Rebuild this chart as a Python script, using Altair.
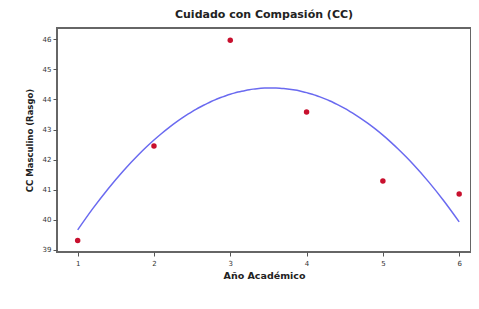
import altair as alt
import pandas as pd

years = [1, 2, 3, 4, 5, 6]
values = [39.31, 42.45, 45.97, 43.58, 41.29, 40.86]
x_ticks = [1, 2, 3, 4, 5, 6]
y_ticks = [39, 40, 41, 42, 43, 44, 45, 46]

df = pd.DataFrame({"year": years, "value": values})

xs = alt.Scale(domain=[0.729, 6.155], nice=False, zero=False)
ys = alt.Scale(domain=[38.93, 46.375], nice=False, zero=False)

x_axis = alt.Axis(values=x_ticks, format="d", labelOverlap=False, title="Año Académico",
                  grid=False, domain=False,
                  tickColor="#555", tickSize=4, labelFontSize=7, labelColor="#333",
                  titleFontSize=9.5, titleFontWeight="bold", titleColor="#222", titlePadding=4,
                  labelPadding=3)
y_axis = alt.Axis(values=y_ticks, format="d", labelOverlap=False, title="CC Masculino (Rasgo)",
                  grid=False, domain=False,
                  tickColor="#555", tickSize=4, labelFontSize=7, labelColor="#333",
                  titleFontSize=8.5, titleFontWeight="bold", titleColor="#222", titlePadding=8,
                  labelPadding=2)

base = alt.Chart(df)

curve = base.transform_regression(
    "year", "value", method="poly", order=2, extent=[1, 6]
).mark_line(color="#6a6af0", strokeWidth=1.5, interpolate="monotone").encode(
    x=alt.X("year:Q", scale=xs, axis=x_axis),
    y=alt.Y("value:Q", scale=ys, axis=y_axis),
)

pts = base.mark_circle(color="#c8102e", size=30, opacity=1).encode(
    x=alt.X("year:Q", scale=xs, axis=x_axis),
    y=alt.Y("value:Q", scale=ys, axis=y_axis),
)

chart = (curve + pts).properties(
    width=414, height=224,
    title=alt.TitleParams("Cuidado con Compasión (CC)", fontSize=11, fontWeight="bold",
                          color="#222", offset=8),
    autosize=alt.AutoSizeParams(type="none"),
    padding={"left": 49, "top": 20, "right": 0, "bottom": 50},
).configure(font="DejaVu Sans").configure_view(stroke="#666", strokeWidth=2).configure_axis(
    labelOverlap=False
)

chart.save("out.html", embed_options={"renderer": "svg", "actions": False})
